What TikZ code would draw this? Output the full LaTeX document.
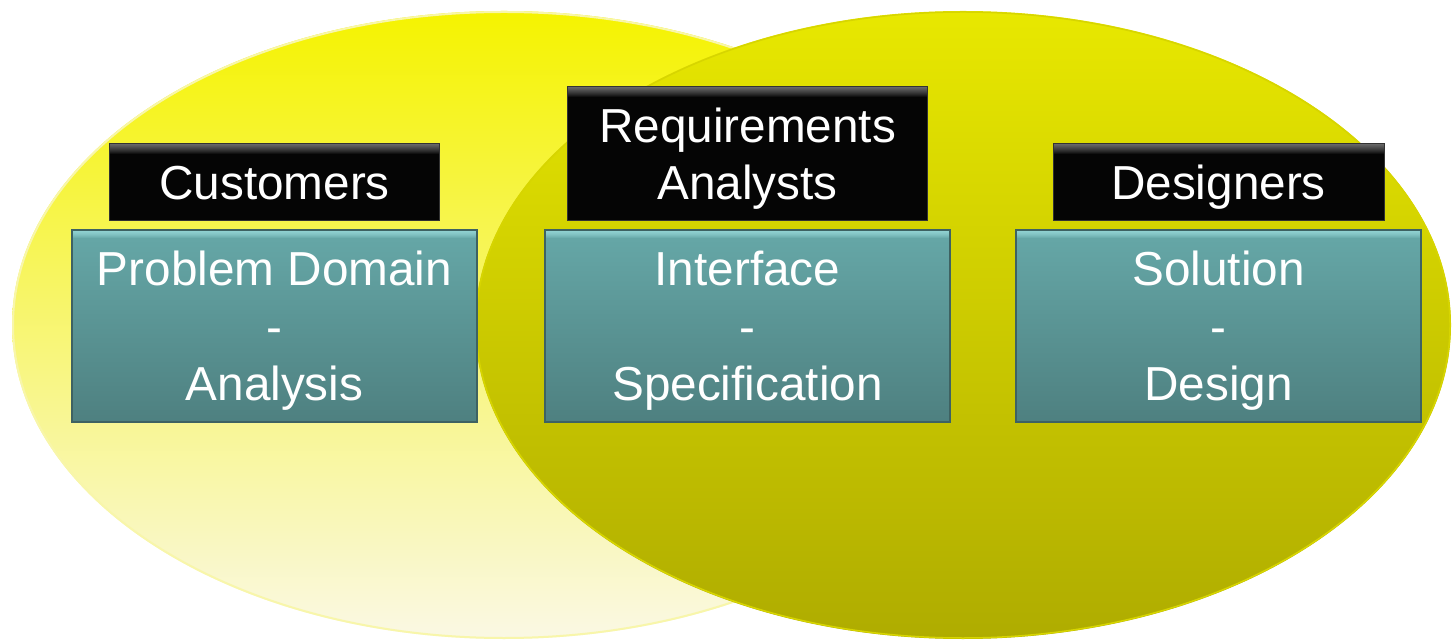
\documentclass[tikz,border=0pt]{standalone}
\usepackage{fontspec}
\setmainfont{Liberation Sans}
\usetikzlibrary{positioning}
\definecolor{leftTop}{RGB}{245, 243, 0}
\definecolor{leftMid}{RGB}{236, 234, 60}
\definecolor{leftBot}{RGB}{250, 248, 228}
\definecolor{leftRim}{RGB}{248, 246, 170}
\definecolor{rightTop}{RGB}{232, 232, 0}
\definecolor{rightMid}{RGB}{207, 205, 0}
\definecolor{rightBot}{RGB}{175, 172, 0}
\definecolor{rightRim}{RGB}{215, 213, 0}
\definecolor{tealTop}{RGB}{102, 168, 168}
\definecolor{tealBot}{RGB}{78, 128, 128}
\definecolor{tealHi}{RGB}{175, 240, 240}
\definecolor{tealEdge}{RGB}{62, 98, 98}
\newcommand\diagfont{\fontsize{47.7}{57.5}\selectfont}

\begin{document}
\begin{tikzpicture}[x=1pt, y=1pt,
        areabox/.style={draw=tealEdge, line width=1.2pt,
            minimum width=405pt, minimum height=192pt,
            top color=tealTop, bottom color=tealBot,
            align=center, text=white, font=\diagfont, text depth=0pt,
            path picture={\foreach \k in {1,...,8}
                \fill[tealHi, opacity=0.12]
                (path picture bounding box.north west) rectangle
                ([yshift=-\k pt]path picture bounding box.north east);}},
        rolebox/.style={draw=black!80, line width=1pt, fill=black!98,
            align=center, text=white, font=\diagfont, text depth=0pt,
            path picture={\foreach \k in {1,...,10}
                \fill[white, opacity=0.05]
                (path picture bounding box.north west) rectangle
                ([yshift=-\k pt]path picture bounding box.north east);}}
    ]
    \useasboundingbox (0,0) rectangle (1455,640);
    \shade[top color=leftTop, middle color=leftMid, bottom color=leftBot]
        (504,315) ellipse [x radius=492, y radius=314];
    \draw[leftRim, line width=2pt] (504,315) ellipse [x radius=491, y radius=313];
    \shade[top color=rightTop, middle color=rightMid, bottom color=rightBot]
        (963,315) ellipse [x radius=488, y radius=314];
    \draw[rightRim, line width=1.5pt] (963,315) ellipse [x radius=487, y radius=313];

    \node[areabox] (pd) at (274.5, 314) {Problem Domain\\-\\Analysis};
    \node[areabox] (ifc) at (747.5, 314) {Interface\\-\\Specification};
    \node[areabox] (sol) at (1218.5, 314) {Solution\\-\\Design};

    \node[rolebox, minimum width=330pt, minimum height=77pt, above=8pt of pd] (cust)
        {Customers};
    \node[rolebox, minimum width=360pt, minimum height=134pt, above=8pt of ifc] (ra)
        {Requirements\\Analysts};
    \node[rolebox, minimum width=331pt, minimum height=77pt, above=8pt of sol] (des)
        {Designers};
\end{tikzpicture}
\end{document}
